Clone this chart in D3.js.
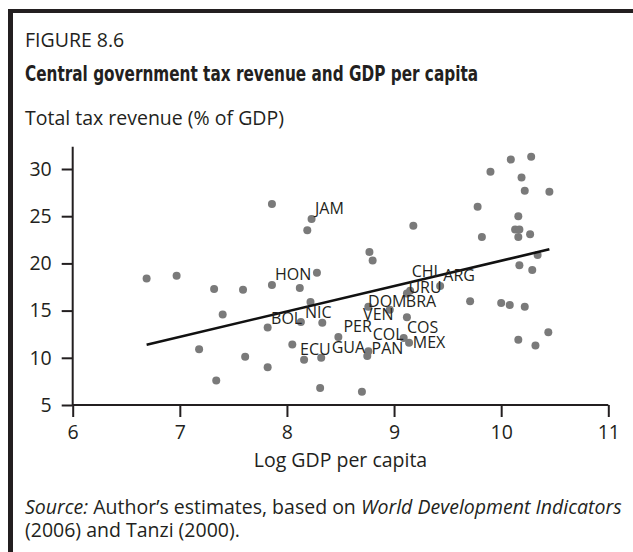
<!DOCTYPE html>
<html>
<head>
<meta charset="utf-8">
<script src="https://cdn.jsdelivr.net/npm/d3@7"></script>
<style>
  body { margin: 0; background: #fff; }
  svg { display: block; }
  text { fill: #231f20; }
</style>
</head>
<body>
<svg id="chart" width="633" height="552"></svg>
<script>
// ---- data ----
const gdpLog = [6.69,6.97,7.32,7.59,7.86,7.86,8.12,8.23,8.19,8.28,8.22,7.40,7.82,8.13,8.33,8.48,7.18,7.61,7.82,7.34,8.05,8.16,8.32,8.31,8.70,8.75,8.76,8.76,8.96,9.12,9.09,9.14,9.12,9.15,9.43,8.80,8.77,9.18,9.71,10.00,10.08,10.22,10.44,10.16,10.32,9.90,10.19,10.22,10.45,9.78,10.16,10.13,10.17,9.82,10.16,10.27,10.34,10.17,10.29,10.09,10.28];
const taxRev = [18.4,18.7,17.3,17.2,17.7,26.3,17.4,24.7,23.5,19.0,15.9,14.6,13.2,13.8,13.7,12.2,10.9,10.1,9.0,7.6,11.4,9.8,10.0,6.8,6.4,10.2,10.7,15.4,15.1,14.3,12.1,11.6,16.8,17.1,17.6,20.3,21.2,24.0,16.0,15.8,15.6,15.4,12.7,11.9,11.3,29.7,29.1,27.7,27.6,26.0,25.0,23.6,23.6,22.8,22.8,23.1,20.9,19.8,19.3,31.0,31.3];

const labelNames = ["JAM","HON","CHI","ARG","URU","DOM","BRA","VEN","PER","COL","COS","MEX","PAN","GUA","ECU","BOL","NIC"];
const labelX = [8.262,7.889,9.165,9.460,9.134,8.757,9.110,8.711,8.527,8.801,9.121,9.175,8.790,8.418,8.122,7.852,8.169];
const labelY = [25.23,18.24,18.56,18.14,16.83,15.41,15.41,13.97,12.73,11.89,12.60,11.09,10.38,10.51,10.30,13.58,14.22];

const fitX = [6.69, 10.45];
const fitY = [11.39, 21.49];

const xTicks = [6,7,8,9,10,11];
const yTicks = [5,10,15,20,25,30];

const figureLabel = "FIGURE 8.6";
const titleText = "Central government tax revenue and GDP per capita";
const yTitle = "Total tax revenue (% of GDP)";
const xTitle = "Log GDP per capita";

// ---- drawing ----
const svg = d3.select("#chart");
const ink = "#231f20";
const sans = "'Open Sans', 'Noto Sans', sans-serif";
const big = 19.5;
const left = 25;

svg.append("rect").attr("width",633).attr("height",552).attr("fill","#fff");

// frame (top + left rule)
svg.append("line").attr("x1",8).attr("x2",633).attr("y1",11).attr("y2",11)
  .attr("stroke",ink).attr("stroke-width",4);
svg.append("line").attr("x1",10.5).attr("x2",10.5).attr("y1",9).attr("y2",552)
  .attr("stroke",ink).attr("stroke-width",5);

svg.append("text").attr("x",left).attr("y",47).attr("font-family",sans).attr("font-size",big)
  .text(figureLabel);
svg.append("text").attr("x",left).attr("y",81)
  .attr("font-family","'Liberation Sans Narrow','DejaVu Sans Condensed',sans-serif")
  .attr("font-weight","bold").attr("font-size",21)
  .attr("textLength",453).attr("lengthAdjust","spacingAndGlyphs")
  .text(titleText);
svg.append("text").attr("x",left).attr("y",125).attr("font-family",sans).attr("font-size",big)
  .text(yTitle);

const x = d3.scaleLinear().domain([6,11]).range([72.7,608.3]);
const y = d3.scaleLinear().domain([5,30]).range([405,169]);

// axes
const xAxis = d3.axisBottom(x).tickValues(xTicks).tickSize(12).tickPadding(8).tickFormat(d3.format("d"));
const yAxis = d3.axisLeft(y).tickValues(yTicks).tickSize(11).tickPadding(10).tickFormat(d3.format("d"));

const gx = svg.append("g").attr("transform",`translate(0,${y(5)})`).call(xAxis);
const gy = svg.append("g").attr("transform",`translate(${x(6)},0)`).call(yAxis);
gy.select(".domain").remove();
gy.append("line").attr("x1",0).attr("x2",0).attr("y1",y(32.35)).attr("y2",y(5))
  .attr("stroke",ink).attr("stroke-width",2);
[gx,gy].forEach(g=>{
  g.selectAll(".tick line").attr("stroke",ink).attr("stroke-width",2);
  g.selectAll("text").attr("font-family",sans).attr("font-size",big).attr("fill",ink);
});
gx.select(".domain").attr("stroke",ink).attr("stroke-width",2)
  .attr("d",`M${x(6)},0H${x(11)}`);

svg.append("text").attr("x",(x(6)+x(11))/2).attr("y",467).attr("text-anchor","middle")
  .attr("font-family",sans).attr("font-size",big).text(xTitle);

// points
svg.append("g").selectAll("circle").data(gdpLog.map((d,i)=>[d,taxRev[i]])).join("circle")
  .attr("cx",d=>x(d[0])).attr("cy",d=>y(d[1])).attr("r",4).attr("fill","#7a7a7a");

// fitted line
svg.append("path").datum(fitX.map((d,i)=>[d,fitY[i]]))
  .attr("d",d3.line().x(d=>x(d[0])).y(d=>y(d[1])))
  .attr("stroke","#111").attr("stroke-width",2.6).attr("fill","none");

// country labels
svg.append("g").selectAll("text").data(labelNames).join("text")
  .attr("x",(d,i)=>x(labelX[i])).attr("y",(d,i)=>y(labelY[i]))
  .attr("font-family",sans).attr("font-size",16).text(d=>d);

// source note
const src = svg.append("text").attr("x",left).attr("y",514).attr("font-family",sans).attr("font-size",big);
src.append("tspan").attr("font-style","italic").text("Source:");
src.append("tspan").text(" Author\u2019s estimates, based on ");
src.append("tspan").attr("font-style","italic").text("World Development Indicators");
svg.append("text").attr("x",left).attr("y",537).attr("font-family",sans).attr("font-size",big)
  .text("(2006) and Tanzi (2000).");
</script>
</body>
</html>
